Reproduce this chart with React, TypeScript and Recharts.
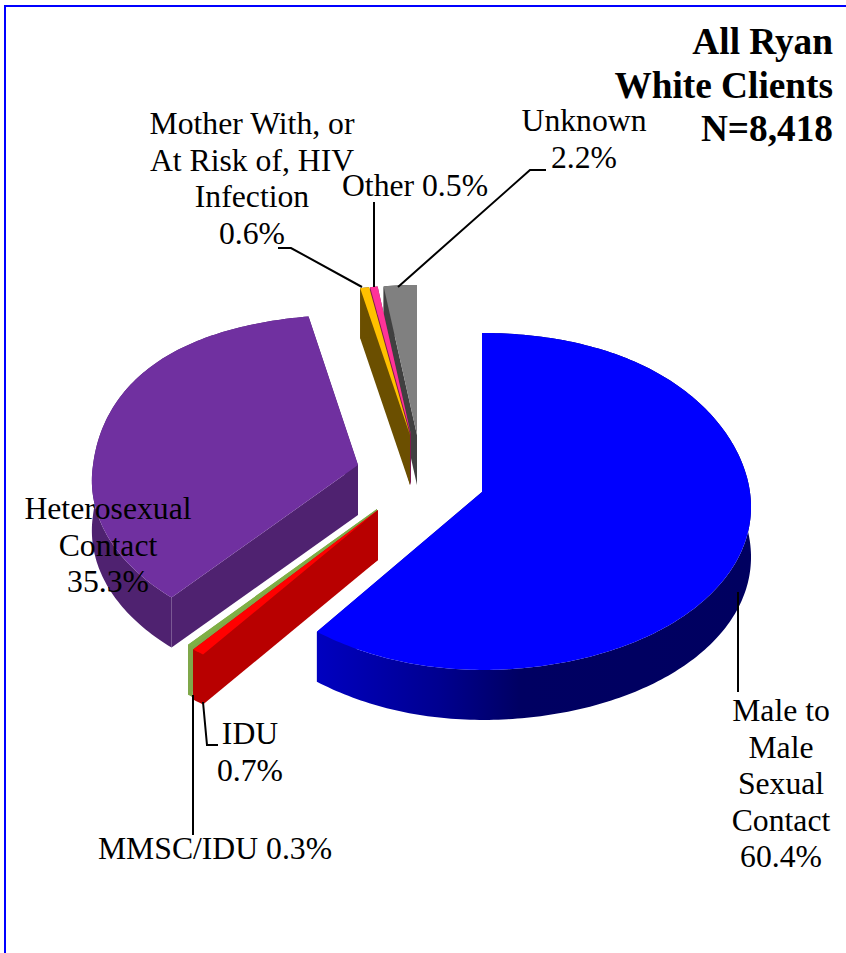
import { PieChart, Pie } from "recharts";

// counter-clockwise from the top, so the front slices paint last
const categories = [
  "Unknown",
  "Other",
  "Mother With, or At Risk of, HIV Infection",
  "Heterosexual Contact",
  "MMSC/IDU",
  "IDU",
  "Male to Male Sexual Contact",
];
const shares = [2.2, 0.5, 0.6, 35.3, 0.3, 0.7, 60.4];
const titleLines = ["All Ryan", "White Clients", "N=8,418"];

const data = categories.map((name, i) => ({ name, value: shares[i] }));

const CX = 482;
const CY = 492;
const RADIUS = 269;
const LABEL_FONT = "'Liberation Serif', 'Times New Roman', serif";

// how each slice is pulled out and tilted in the 3D look
const looks: Record<string, any> = {
  "Male to Male Sexual Contact": { dx: 0, dy: 0, sx: 1, ry: 168.5, k: 0.056, kx: 0.012, sag: 13, top: "#0000ff", wall: "url(#blueWall)" },
  IDU: { dx: -104, dy: 18, sx: 1.07, ry: 182, k: 0, top: "#ff0000", wall: "#b80000" },
  "MMSC/IDU": { dx: -105, dy: 17, sx: 1.07, ry: 180, k: 0, top: "#7fb045", wall: "#7fa84a" },
  "Heterosexual Contact": { dx: -124, dy: -27, sx: 0.985, ry: 165, k: 0.087, kx: 0.095, bulge: 10, top: "#7030a0", wall: "#4f2270" },
  "Mother With, or At Risk of, HIV Infection": { dx: -72, dy: -57, sx: 0.9, ry: 150, k: 0, top: "#ffc000", wall: "#6b4f00" },
  Other: { dx: -71, dy: -57, sx: 0.9, ry: 150, k: 0, top: "#ff3399", wall: "#7f1a4d" },
  Unknown: { dx: -65, dy: -57, sx: 0.9, ry: 150, k: 0, top: "#808080", wall: "#404040" },
};

const labels: Record<string, any> = {
  "Male to Male Sexual Contact": {
    x: 781, y: 721, lines: ["Male to", "Male", "Sexual", "Contact"],
    leader: "738,592 738,692",
  },
  IDU: {
    x: 250, y: 744, lines: ["IDU"],
    leader: "203,702 207,745 218,745",
  },
  "MMSC/IDU": {
    x: 215, y: 859, lines: [], inline: "MMSC/IDU",
    leader: "193,695 193,835",
  },
  "Heterosexual Contact": {
    x: 108, y: 519, lines: ["Heterosexual", "Contact"],
  },
  "Mother With, or At Risk of, HIV Infection": {
    x: 252, y: 134, lines: ["Mother With, or", "At Risk of, HIV", "Infection"],
    leader: "278,248 291,248 362,287",
  },
  Other: {
    x: 415, y: 196, lines: [], inline: "Other",
    leader: "374,202 374,287",
  },
  Unknown: {
    x: 584, y: 131, lines: ["Unknown"],
    leader: "546,170 530,170 398,287",
  },
};

const Slice3D = (props: any) => {
  const { cx, cy, outerRadius, startAngle, endAngle, name } = props;
  const look = looks[name];
  const tipX = cx + look.dx;
  const tipY = cy + look.dy;
  const depth = 50;

  const at = (deg: number) => {
    const th = ((90 - deg) * Math.PI) / 180;
    const c = Math.cos(th);
    const s = Math.sin(th);
    const kx = look.kx ?? look.k;
    // the original's perspective is not a clean ellipse, nudge the rim to follow it
    let nudge = 0;
    if (look.sag && s > 0) nudge += look.sag * (c < 0 ? s * s : s * s * s * s);
    if (look.bulge && c > 0) nudge -= look.bulge * 4 * c * (1 - c);
    return [
      tipX + outerRadius * look.sx * s * (1 - kx * c),
      tipY - look.ry * c * (1 - look.k * c) + nudge,
    ];
  };

  const arc: number[][] = [];
  const steps = Math.max(2, Math.ceil(Math.abs(endAngle - startAngle)));
  for (let i = 0; i <= steps; i++) {
    arc.push(at(startAngle + ((endAngle - startAngle) * i) / steps));
  }
  const pts = (list: number[][]) => list.map((p) => `${p[0]},${p[1]}`).join(" ");
  const down = (p: number[]) => [p[0], p[1] + depth];
  const tip = [tipX, tipY];
  const first = arc[0];
  const last = arc[arc.length - 1];

  return (
    <g>
      <polygon points={pts([tip, first, down(first), down(tip)])} fill={look.wall} />
      <polygon points={pts([tip, last, down(last), down(tip)])} fill={look.wall} />
      <polygon points={pts([...arc, ...arc.map(down).reverse()])} fill={look.wall} />
      <polygon points={pts([tip, ...arc])} fill={look.top} />
    </g>
  );
};

const renderLabel = (props: any) => {
  const { name, value } = props;
  const item = labels[name];
  const rows = item.inline
    ? [`${item.inline} ${value}%`]
    : [...item.lines, `${value}%`];
  return (
    <g key={name}>
      {item.leader && (
        <polyline points={item.leader} fill="none" stroke="#000" strokeWidth={2} />
      )}
      {rows.map((row: string, i: number) => (
        <text
          key={row}
          x={item.x}
          y={item.y + i * 36.6}
          textAnchor="middle"
          fontFamily={LABEL_FONT}
          fontSize={31.7}
          fill="#000"
        >
          {row}
        </text>
      ))}
    </g>
  );
};

const App = () => {
  return (
    <div style={{ position: "absolute", left: 0, top: 0, width: 846, height: 953, overflow: "hidden", background: "#fff" }}>
      <div
        style={{
          position: "absolute",
          left: 4,
          top: 5,
          right: 0,
          bottom: 0,
          borderLeft: "2px solid #0000ff",
          borderTop: "2px solid #0000ff",
        }}
      />
      <PieChart width={846} height={953} margin={{ top: 0, right: 0, bottom: 0, left: 0 }}>
        <defs>
          <linearGradient id="blueWall" gradientUnits="userSpaceOnUse" x1="317" y1="0" x2="751" y2="0">
            <stop offset="0" stopColor="#0000c0" />
            <stop offset="0.28" stopColor="#000090" />
            <stop offset="0.47" stopColor="#000062" />
            <stop offset="1" stopColor="#000060" />
          </linearGradient>
        </defs>
        <Pie
          data={data}
          dataKey="value"
          nameKey="name"
          cx={CX}
          cy={CY}
          innerRadius={0}
          outerRadius={RADIUS}
          startAngle={90}
          endAngle={450}
          stroke="none"
          shape={Slice3D}
          label={renderLabel}
          labelLine={false}
          isAnimationActive={false}
        />
      </PieChart>
      <div
        style={{
          position: "absolute",
          right: 13,
          top: 20,
          textAlign: "right",
          fontFamily: LABEL_FONT,
          fontWeight: "bold",
          fontSize: 37.3,
          lineHeight: "43.5px",
          color: "#000",
        }}
      >
        {titleLines.map((line) => (
          <div key={line}>{line}</div>
        ))}
      </div>
    </div>
  );
};

export default App;
